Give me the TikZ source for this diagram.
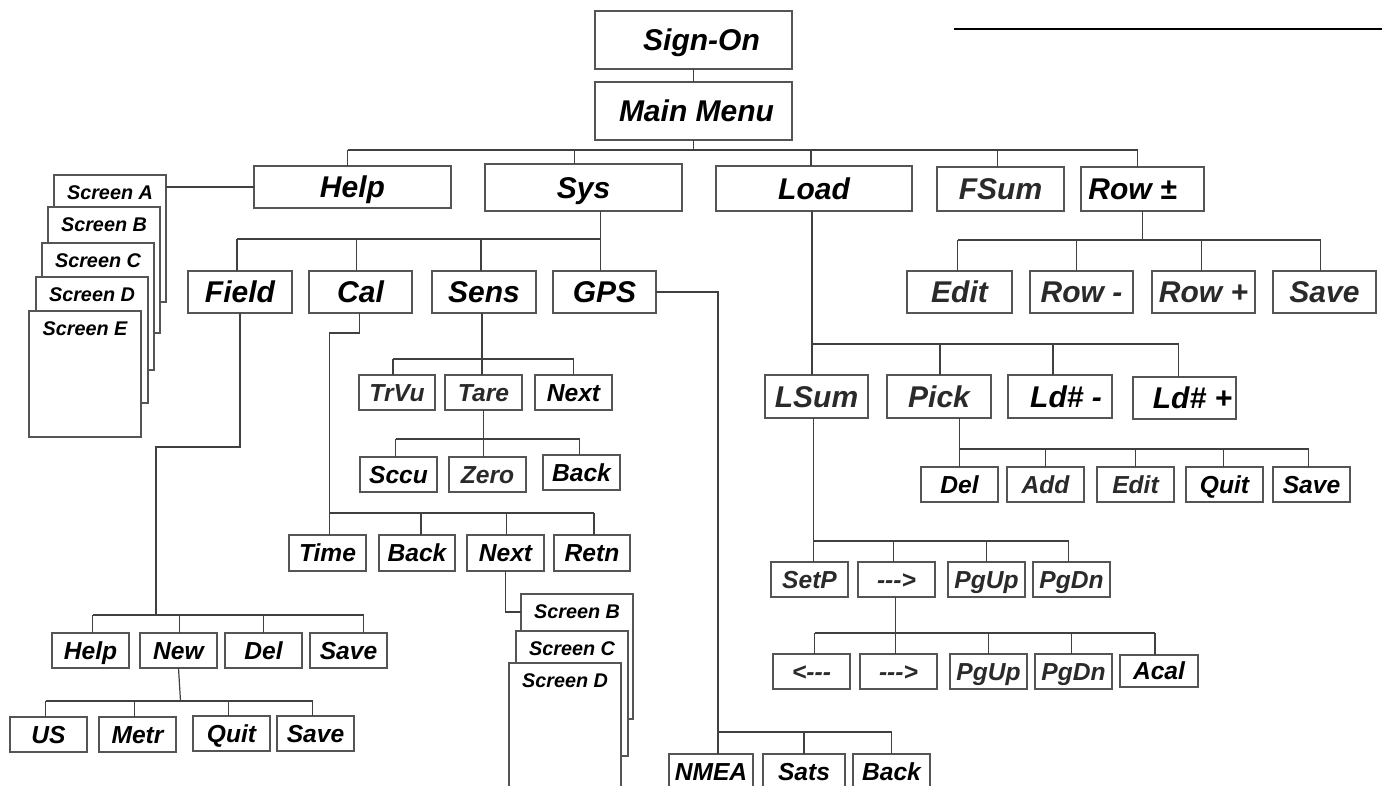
\documentclass[tikz,border=0pt]{standalone}
\usepackage{fontspec}
\setmainfont{Liberation Sans}
\usetikzlibrary{fit,calc}
\definecolor{bord}{HTML}{555555}
\definecolor{gtx}{HTML}{2A2A2A}
\tikzset{
  bxs/.style={draw=bord, line width=0.6pt, fill=white, inner sep=0pt, outer sep=0pt, rectangle},
  big/.style={font=\fontsize{15}{18}\selectfont\bfseries\itshape, inner sep=0pt, text height=10.7pt, text depth=0pt},
  sml/.style={font=\fontsize{12.3}{15}\selectfont\bfseries\itshape, inner sep=0pt, text height=8.8pt, text depth=0pt},
  scr/.style={font=\fontsize{9.9}{12}\selectfont\bfseries\itshape, inner sep=0pt, text height=7.1pt, text depth=0pt},
  gr/.style={text=gtx},
  ln/.style={draw=black!75, line width=0.6pt},
}
\newcommand\bx[7][big]{\node[bxs,fit={(#3,#4) (#5,#6)}] (#2) {}; \node[#1] (#2t) at (#2.center) {#7};}
\newcommand\scrbox[6]{\node[bxs,fit={(#2,#3) (#4,#5)}] (#1) {}; \node[scr] (#1t) at ($(#1.north)+(0,17)$) {#6};}
\begin{document}
\begin{tikzpicture}[x=0.5pt,y=-0.5pt]
\useasboundingbox (0,0) rectangle (1382,786);
\clip (0,0) rectangle (1382,786);
\fill[white] (0,0) rectangle (1382,786);

% top level
\bx[big,shift={(8,0)}]{sign}{595}{11}{792}{69}{Sign-On}
\bx[big,shift={(3,0)}]{main}{595}{82}{792}{140}{Main Menu}
\bx{help}{254}{166}{451}{208}{Help}
\bx{sys}{485}{164}{682}{211}{Sys}
\bx{load}{716}{166}{912}{211}{Load}
\bx[big,gr]{fsum}{937}{167}{1064}{211}{FSum}
\bx[big,shift={(-10,0)}]{rowpm}{1081}{167}{1204}{211}{Row ±}

% Row +/- children
\bx[big,gr]{redit}{907}{271}{1012}{313}{Edit}
\bx[big,gr]{rminus}{1030}{271}{1133}{313}{Row -}
\bx[big,gr]{rplus}{1152}{271}{1255}{313}{Row +}
\bx[big,gr]{rsave}{1273}{271}{1376}{313}{Save}

% Sys children
\bx{field}{188}{271}{292}{313}{Field}
\bx{cal}{309}{271}{412}{313}{Cal}
\bx{sens}{432}{271}{536}{313}{Sens}
\bx{gps}{553}{271}{656}{313}{GPS}

% Sens subtree
\bx[sml,gr]{trvu}{359}{375}{435}{410}{TrVu}
\bx[sml,gr]{tare}{445}{375}{522}{410}{Tare}
\bx[sml]{snext}{535}{375}{612}{410}{Next}
\bx[sml]{sccu}{360}{457}{437}{492}{Sccu}
\bx[sml,gr]{zero}{449}{457}{526}{492}{Zero}
\bx[sml]{sback}{543}{455}{620}{490}{Back}

% Cal subtree
\bx[sml]{time}{289}{535}{366}{571}{Time}
\bx[sml]{cback}{379}{535}{455}{571}{Back}
\bx[sml]{cnext}{467}{535}{544}{571}{Next}
\bx[sml]{retn}{554}{535}{630}{571}{Retn}
\scrbox{csb}{521}{594}{633}{719}{Screen B}
\scrbox{csc}{516}{631}{628}{756}{Screen C}
\scrbox{csd}{509}{663}{621}{800}{Screen D}

% Field subtree
\bx[sml]{fhelp}{52}{633}{129}{668}{Help}
\bx[sml]{fnew}{140}{633}{217}{668}{New}
\bx[sml]{fdel}{225}{633}{302}{668}{Del}
\bx[sml]{fsave}{310}{633}{387}{668}{Save}
\bx[sml]{us}{10}{717}{87}{752}{US}
\bx[sml]{metr}{99}{717}{176}{752}{Metr}
\bx[sml]{quit}{193}{716}{270}{751}{Quit}
\bx[sml]{nsave}{277}{716}{354}{751}{Save}

% GPS subtree
\bx[sml]{nmea}{669}{754}{753}{790}{NMEA}
\bx[sml]{sats}{763}{754}{845}{790}{Sats}
\bx[sml]{gback}{853}{754}{930}{790}{Back}

% Load subtree
\bx[big,gr]{lsum}{765}{375}{868}{418}{LSum}
\bx[big,gr]{pick}{887}{375}{991}{418}{Pick}
\bx[big,shift={(6,0)}]{ldm}{1008}{375}{1112}{418}{Ld\# -}
\bx[big,shift={(8,0)}]{ldp}{1133}{377}{1236}{419}{Ld\# +}
\bx[sml]{pdel}{921}{467}{998}{502}{Del}
\bx[sml,gr]{padd}{1007}{467}{1084}{502}{Add}
\bx[sml,gr]{pedit}{1097}{467}{1174}{502}{Edit}
\bx[sml]{pquit}{1186}{467}{1263}{502}{Quit}
\bx[sml]{psave}{1273}{467}{1350}{502}{Save}
\bx[sml,gr]{setp}{771}{562}{848}{597}{SetP}
\bx[sml,gr]{arr}{858}{562}{935}{597}{-{}-{}->}
\bx[sml,gr]{pgup}{948}{562}{1025}{597}{PgUp}
\bx[sml,gr]{pgdn}{1033}{562}{1110}{597}{PgDn}
\bx[sml,gr]{larr}{773}{654}{850}{689}{<-{}-{}-}
\bx[sml,gr]{rarr}{860}{654}{937}{689}{-{}-{}->}
\bx[sml,gr]{pgupb}{950}{654}{1027}{689}{PgUp}
\bx[sml,gr]{pgdnb}{1035}{654}{1112}{689}{PgDn}
\bx[sml]{acal}{1120}{655}{1198}{687}{Acal}

% Help screens stack
\scrbox{sa}{54}{175}{166}{302}{Screen A}
\scrbox{sb}{48}{207}{160}{333}{Screen B}
\scrbox{sc}{42}{243}{154}{370}{Screen C}
\scrbox{sd}{36}{277}{148}{403}{Screen D}
\scrbox{se}{29}{311}{141}{437}{Screen E}

% ---------- connectors ----------
\coordinate (tla) at (954,29);
\coordinate (tlb) at (1382,29);
\draw[line width=1pt] (tla) -- (tlb);

\draw[ln] (sign.south) -- (main.north);
\coordinate (mb) at (0,150);
\draw[ln] (main.south) -- (main.south |- mb);
\draw[ln] ($(help.north |- mb)+(-5,0)$) -- ($(rowpm.north |- mb)+(-5,0)$);
\foreach \n/\d in {help/-5,sys/-9,load/-3,fsum/-3,rowpm/-5}
  \draw[ln] ($(\n.north)+(\d,0)$) -- ($(\n.north |- mb)+(\d,0)$);
\draw[ln] (help.west) -- (help.west -| sa.east);

% Row +/-
\coordinate (rb) at (0,240);
\draw[ln] (rowpm.south) -- (rowpm.south |- rb);
\draw[ln] ($(redit.north |- rb)+(-2,0)$) -- ($(rsave.north |- rb)+(-4,0)$);
\foreach \n/\d in {redit/-2,rminus/-5,rplus/-2,rsave/-4}
  \draw[ln] ($(\n.north)+(\d,0)$) -- ($(\n.north |- rb)+(\d,0)$);

% Sys
\coordinate (sbus) at (0,239);
\draw[ln] ($(gps.north)+(-4,0)$) -- ($(gps.north |- sys.south)+(-4,0)$);
\draw[ln] ($(field.north |- sbus)+(-3,0)$) -- ($(gps.north |- sbus)+(-4,0)$);
\foreach \n/\d in {field/-3,cal/-4,sens/-3}
  \draw[ln] ($(\n.north)+(\d,0)$) -- ($(\n.north |- sbus)+(\d,0)$);

% GPS
\coordinate (gx) at ($(nmea.north)+(7,0)$);
\coordinate (gb) at (0,732);
\draw[ln] (gps.east) -| (gx);
\draw[ln] (gx |- gb) -- (gback.north |- gb);
\draw[ln] (sats.north) -- (sats.north |- gb);
\draw[ln] (gback.north) -- (gback.north |- gb);

% Field
\coordinate (fa) at (0,447);
\coordinate (fx) at (156,0);
\coordinate (fb) at (0,615);
\draw[ln] (field.south) |- (fx |- fa) -- (fx |- fb);
\draw[ln] ($(fhelp.north |- fb)+(2,0)$) -- ($(fsave.north |- fb)+(15,0)$);
\foreach \n/\d in {fhelp/2,fnew/1,fdel/0,fsave/15}
  \draw[ln] ($(\n.north)+(\d,0)$) -- ($(\n.north |- fb)+(\d,0)$);
\coordinate (nb) at (0,701);
\draw[ln] (fnew.south) -- ($(fnew.south |- nb)+(2,0)$);
\draw[ln] ($(us.north |- nb)+(-3,0)$) -- ($(nsave.north |- nb)+(-3,0)$);
\foreach \n in {us,metr,quit,nsave}
  \draw[ln] ($(\n.north)+(-3,0)$) -- ($(\n.north |- nb)+(-3,0)$);

% Cal
\coordinate (ca) at (0,333);
\coordinate (cb) at (0,513);
\draw[ln] ($(cal.south)+(-1,0)$) |- ($(time.north |- ca)+(2,0)$) -- ($(time.north)+(2,0)$);
\draw[ln] ($(time.north |- cb)+(2,0)$) -- ($(retn.north |- cb)+(2,0)$);
\foreach \n/\d in {cback/4,cnext/1,retn/2}
  \draw[ln] ($(\n.north)+(\d,0)$) -- ($(\n.north |- cb)+(\d,0)$);
\coordinate (cn) at (0,612);
\draw[ln] (cnext.south) |- (csb.west |- cn);

% Sens
\coordinate (snb) at (0,359);
\draw[ln] ($(sens.south)+(-2,0)$) -- ($(sens.south |- tare.north)+(-2,0)$);
\draw[ln] ($(trvu.north |- snb)+(-4,0)$) -- (snext.north |- snb);
\draw[ln] ($(trvu.north)+(-4,0)$) -- ($(trvu.north |- snb)+(-4,0)$);
\draw[ln] (snext.north) -- (snext.north |- snb);
\coordinate (tb) at (0,439);
\draw[ln] (tare.south) -- (tare.south |- zero.north);
\draw[ln] ($(sccu.north |- tb)+(-3,0)$) -- ($(sback.north |- tb)+(-2,0)$);
\draw[ln] ($(sccu.north)+(-3,0)$) -- ($(sccu.north |- tb)+(-3,0)$);
\draw[ln] ($(sback.north)+(-2,0)$) -- ($(sback.north |- tb)+(-2,0)$);

% Load
\coordinate (lb) at (0,344);
\draw[ln] ($(load.south)+(-2,0)$) -- ($(load.south |- lsum.north)+(-2,0)$);
\draw[ln] ($(load.south |- lb)+(-2,0)$) -- ($(ldp.north |- lb)+(-6,0)$);
\foreach \n/\d in {pick/1,ldm/-7,ldp/-6}
  \draw[ln] ($(\n.north)+(\d,0)$) -- ($(\n.north |- lb)+(\d,0)$);

% Pick
\coordinate (pb) at (0,449);
\draw[ln] (pdel.north) -- (pdel.north |- pick.south);
\draw[ln] (pdel.north |- pb) -- ($(psave.north |- pb)+(-3,0)$);
\foreach \n/\d in {padd/0,pedit/0,pquit/-1,psave/-3}
  \draw[ln] ($(\n.north)+(\d,0)$) -- ($(\n.north |- pb)+(\d,0)$);

% LSum
\coordinate (lsb) at (0,541);
\draw[ln] ($(lsum.south)+(-3,0)$) -- ($(lsum.south |- setp.north)+(-3,0)$);
\draw[ln] ($(lsum.south |- lsb)+(-3,0)$) -- ($(pgdn.north |- lsb)+(-3,0)$);
\foreach \n/\d in {arr/-3,pgup/0,pgdn/-3}
  \draw[ln] ($(\n.north)+(\d,0)$) -- ($(\n.north |- lsb)+(\d,0)$);

% --->
\coordinate (ab) at (0,633);
\draw[ln] ($(arr.south)+(-1,0)$) -- ($(arr.south |- rarr.north)+(-1,0)$);
\draw[ln] ($(larr.north |- ab)+(3,0)$) -- ($(acal.north |- ab)+(-4,0)$);
\foreach \n/\d in {larr/3,pgupb/0,pgdnb/-2,acal/-4}
  \draw[ln] ($(\n.north)+(\d,0)$) -- ($(\n.north |- ab)+(\d,0)$);
\end{tikzpicture}
\end{document}
